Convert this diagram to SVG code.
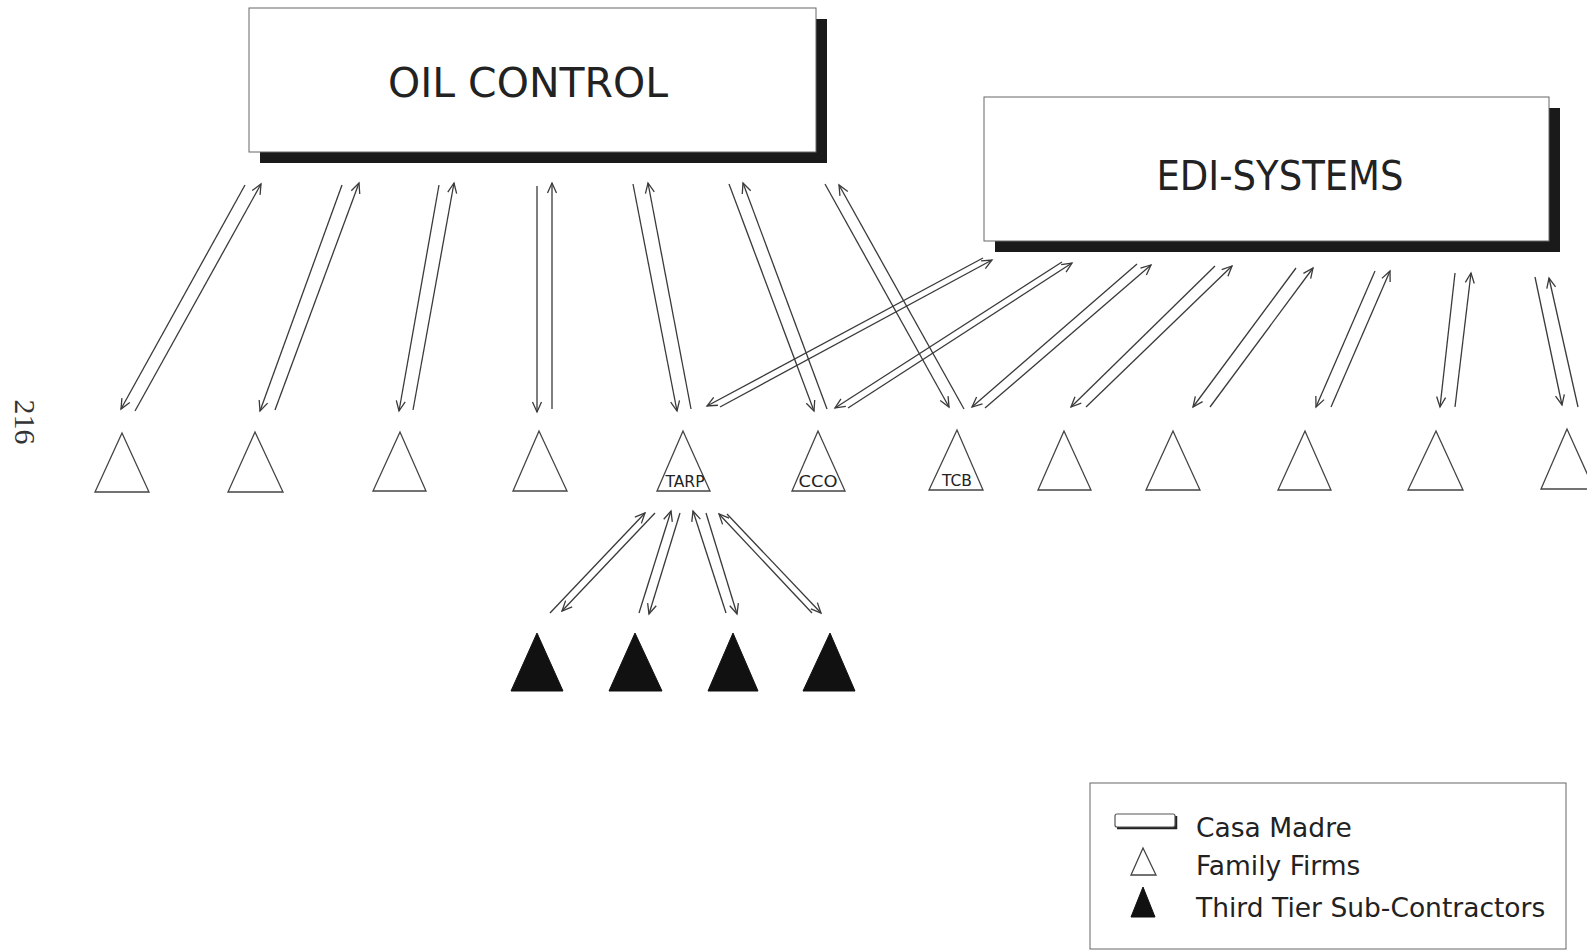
<svg xmlns="http://www.w3.org/2000/svg" width="1587" height="951" viewBox="0 0 1587 951">
<style>
.bg{fill:#fff}
.box{fill:#fff;stroke:#666;stroke-width:1}
.shadow{fill:#1a1a1a}
.title{font-family:"DejaVu Sans","Liberation Sans",sans-serif;fill:#222;font-size:41px}
.lab{font-family:"DejaVu Sans","Liberation Sans",sans-serif;fill:#222;font-size:16px}
.leg{font-family:"DejaVu Sans","Liberation Sans",sans-serif;fill:#222;font-size:26.5px}
.firm{fill:#fff;stroke:#444;stroke-width:1.3;stroke-linejoin:miter}
.sub{fill:#111;stroke:#111;stroke-width:1}
.conn line{stroke:#3a3a3a;stroke-width:1.3;marker-end:url(#ah)}
.page{font-family:"Liberation Serif",serif;fill:#333;font-size:30px}
</style>
<defs>
<marker id="ah" viewBox="-12 -6 14 12" refX="0" refY="0" markerWidth="14" markerHeight="12" markerUnits="userSpaceOnUse" orient="auto">
<path d="M-10,-4.5 L0,0 L-10,4.5" fill="none" stroke="#3a3a3a" stroke-width="1.3"/>
</marker>
</defs>
<rect class="bg" x="0" y="0" width="1587" height="951"/>

<text class="page" transform="translate(15,422) rotate(90)" text-anchor="middle">216</text>

<g id="oil-control">
<rect class="shadow" x="260" y="19" width="567" height="144"/>
<rect class="box" x="249" y="8" width="567" height="144"/>
<text class="title" x="528" y="97" text-anchor="middle" textLength="280" lengthAdjust="spacingAndGlyphs">OIL CONTROL</text>
</g>

<g id="edi-systems">
<rect class="shadow" x="995" y="108" width="565" height="144"/>
<rect class="box" x="984" y="97" width="565" height="144"/>
<text class="title" x="1280" y="190" text-anchor="middle" textLength="247" lengthAdjust="spacingAndGlyphs">EDI-SYSTEMS</text>
</g>

<g class="conn" id="connectors">
<line x1="245" y1="185" x2="121" y2="409"/>
<line x1="135" y1="411" x2="261" y2="184"/>
<line x1="342" y1="185" x2="260" y2="411"/>
<line x1="275" y1="410" x2="359" y2="183"/>
<line x1="439" y1="185" x2="399" y2="411"/>
<line x1="413" y1="410" x2="454" y2="183"/>
<line x1="537" y1="186" x2="537" y2="412"/>
<line x1="552" y1="409" x2="552" y2="183"/>
<line x1="633" y1="184" x2="677" y2="411"/>
<line x1="691" y1="409" x2="648" y2="183"/>
<line x1="729" y1="184" x2="814" y2="411"/>
<line x1="827" y1="409" x2="743" y2="183"/>
<line x1="825" y1="184" x2="949" y2="407"/>
<line x1="964" y1="409" x2="839" y2="185"/>

<line x1="983" y1="258" x2="707" y2="406"/>
<line x1="720" y1="407" x2="992" y2="260"/>
<line x1="1062" y1="262" x2="835" y2="408"/>
<line x1="848" y1="408" x2="1072" y2="263"/>
<line x1="1137" y1="264" x2="972" y2="407"/>
<line x1="985" y1="408" x2="1151" y2="265"/>
<line x1="1215" y1="266" x2="1071" y2="407"/>
<line x1="1086" y1="407" x2="1232" y2="266"/>
<line x1="1296" y1="268" x2="1193" y2="407"/>
<line x1="1210" y1="407" x2="1313" y2="268"/>
<line x1="1375" y1="271" x2="1316" y2="407"/>
<line x1="1331" y1="407" x2="1390" y2="271"/>
<line x1="1455" y1="273" x2="1440" y2="407"/>
<line x1="1455" y1="407" x2="1471" y2="273"/>
<line x1="1535" y1="277" x2="1562" y2="405"/>
<line x1="1578" y1="407" x2="1549" y2="278"/>

<line x1="550" y1="613" x2="645" y2="513"/>
<line x1="655" y1="513" x2="562" y2="611"/>
<line x1="639" y1="613" x2="671" y2="511"/>
<line x1="680" y1="513" x2="649" y2="614"/>
<line x1="726" y1="613" x2="693" y2="511"/>
<line x1="706" y1="513" x2="737" y2="614"/>
<line x1="812" y1="613" x2="719" y2="514"/>
<line x1="727" y1="514" x2="821" y2="613"/>
</g>

<g id="firm1"><polygon class="firm" points="122,433 95,492 149,492"/></g>
<g id="firm2"><polygon class="firm" points="255,432 228,492 283,492"/></g>
<g id="firm3"><polygon class="firm" points="400,432 373,491 426,491"/></g>
<g id="firm4"><polygon class="firm" points="539,431 513,491 567,491"/></g>
<g id="firm-tarp"><polygon class="firm" points="683,431 657,491 710,491"/><text class="lab" x="685" y="487" text-anchor="middle" textLength="39" lengthAdjust="spacingAndGlyphs">TARP</text></g>
<g id="firm-cco"><polygon class="firm" points="818,431 792,491 845,491"/><text class="lab" x="818" y="487" text-anchor="middle" textLength="39" lengthAdjust="spacingAndGlyphs">CCO</text></g>
<g id="firm-tcb"><polygon class="firm" points="957,430 929,490 983,490"/><text class="lab" x="957" y="486" text-anchor="middle" textLength="30" lengthAdjust="spacingAndGlyphs">TCB</text></g>
<g id="firm8"><polygon class="firm" points="1064,431 1038,490 1091,490"/></g>
<g id="firm9"><polygon class="firm" points="1173,431 1146,490 1200,490"/></g>
<g id="firm10"><polygon class="firm" points="1305,431 1278,490 1331,490"/></g>
<g id="firm11"><polygon class="firm" points="1436,431 1408,490 1463,490"/></g>
<g id="firm12"><polygon class="firm" points="1567,429 1541,489 1594,489"/></g>

<g id="sub1"><polygon class="sub" points="537,633 511,691 563,691"/></g>
<g id="sub2"><polygon class="sub" points="635,633 609,691 662,691"/></g>
<g id="sub3"><polygon class="sub" points="733,633 708,691 758,691"/></g>
<g id="sub4"><polygon class="sub" points="830,633 803,691 855,691"/></g>

<g id="legend">
<rect x="1090" y="783" width="476" height="166" fill="#fff" stroke="#666" stroke-width="1"/>
<path d="M1117,828 L1176,828 L1176,816" fill="none" stroke="#222" stroke-width="2.5"/>
<rect x="1115" y="814" width="60" height="13" rx="2" fill="#fff" stroke="#555" stroke-width="1.2"/>
<polygon class="firm" points="1143,848 1131,875 1156,875" stroke-width="1"/>
<polygon class="sub" points="1143,887 1131,917 1155,917"/>
<text class="leg" x="1196" y="837">Casa Madre</text>
<text class="leg" x="1196" y="875">Family Firms</text>
<text class="leg" x="1196" y="917">Third Tier Sub-Contractors</text>
</g>
</svg>
